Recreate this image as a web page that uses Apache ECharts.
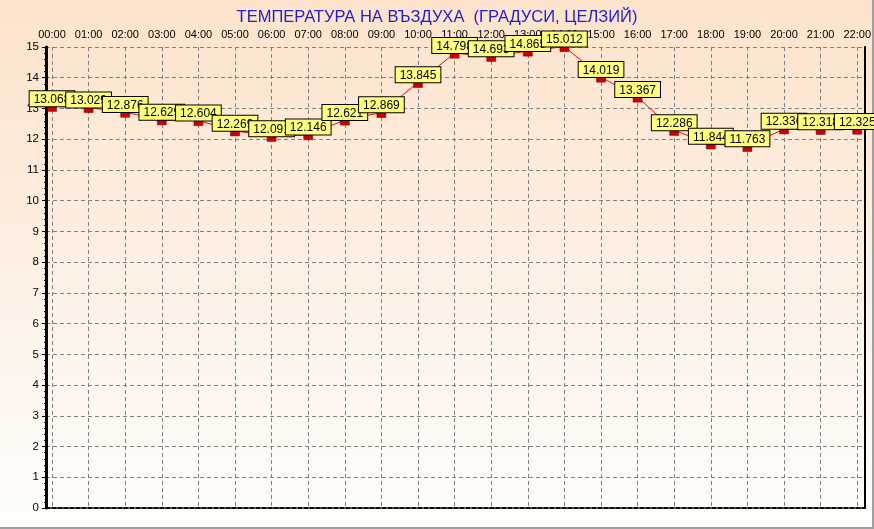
<!DOCTYPE html>
<html>
<head>
<meta charset="utf-8">
<script src="https://cdn.jsdelivr.net/npm/echarts@6/dist/echarts.min.js"></script>
<style>
html,body{margin:0;padding:0;background:#fff;}
#c{width:874px;height:529px;background:linear-gradient(to bottom,#fde3cb 0%,#fdf0e4 50%,#fffefc 100%);}
</style>
</head>
<body>
<div id="c"></div>
<script>
const titleText = 'ТЕМПЕРАТУРА НА ВЪЗДУХА  (ГРАДУСИ, ЦЕЛЗИЙ)';
const hours = ['00:00','01:00','02:00','03:00','04:00','05:00','06:00','07:00','08:00','09:00','10:00','11:00','12:00','13:00','14:00','15:00','16:00','17:00','18:00','19:00','20:00','21:00','22:00'];
const temps = [13.068,13.029,12.876,12.629,12.604,12.269,12.091,12.146,12.621,12.869,13.845,14.798,14.693,14.865,15.012,14.019,13.367,12.286,11.844,11.763,12.336,12.318,12.325];
const yMin = 0, yMax = 15, yStep = 1;

const chart = echarts.init(document.getElementById('c'), null, {renderer:'canvas'});
const font = 'Liberation Sans, Arial, sans-serif';
const dashGray = {color:'#808080', width:1, type:[4,3]};
chart.setOption({
  backgroundColor: 'transparent',
  animation: false,
  title: {
    text: titleText, left: 'center', top: 4,
    textStyle: {color:'#2222cc', fontSize:16.5, fontWeight:'normal', fontFamily: font}
  },
  graphic: [
    {type:'rect', right:0, top:0, shape:{width:2, height:529}, style:{fill:'#a0a0a0'}, z:-1},
    {type:'rect', left:0, bottom:0, shape:{width:874, height:2}, style:{fill:'#a0a0a0'}, z:-1}
  ],
  grid: [
    {left:52, right:14, top:47, bottom:21},
    {left:46, right:9, top:47, bottom:21}
  ],
  xAxis: [
    {type:'category', gridIndex:0, position:'top', boundaryGap:false, data:hours,
     axisLine:{show:false}, axisTick:{show:false},
     axisLabel:{color:'#000', fontSize:11, fontFamily:font, margin:7},
     splitLine:{show:true, lineStyle:dashGray}},
    {type:'value', gridIndex:1, position:'top', min:0, max:1,
     axisLine:{show:true, lineStyle:{color:'#000', width:1.5, type:[4,2]}},
     axisTick:{show:false}, axisLabel:{show:false}, splitLine:{show:false}},
    {type:'value', gridIndex:1, position:'bottom', min:0, max:1,
     axisLine:{show:true, lineStyle:{color:'#000', width:1.5, type:[4,2]}},
     axisTick:{show:false}, axisLabel:{show:false}, splitLine:{show:false}}
  ],
  yAxis: [
    {type:'value', gridIndex:0, min:yMin, max:yMax, interval:yStep, show:false, splitLine:{show:false}},
    {type:'value', gridIndex:1, position:'left', min:yMin, max:yMax, interval:yStep,
     axisLine:{show:true, onZero:false, lineStyle:{color:'#000', width:3}},
     axisTick:{show:true, length:4, lineStyle:{color:'#000'}},
     minorTick:{show:true, splitNumber:5, length:2, lineStyle:{color:'#000'}},
     axisLabel:{color:'#000', fontSize:11.5, fontFamily:font, margin:7},
     splitLine:{show:true, lineStyle:dashGray}},
    {type:'value', gridIndex:1, position:'right', min:yMin, max:yMax, interval:yStep,
     axisLine:{show:true, onZero:false, lineStyle:{color:'#000', width:2}},
     axisTick:{show:false}, axisLabel:{show:false}, splitLine:{show:false}}
  ],
  series: [{
    type:'line', xAxisIndex:0, yAxisIndex:0, data:temps, clip:false,
    lineStyle:{color:'#dd1111', width:1},
    symbol:'rect', symbolSize:[9,5], symbolOffset:[0,2.5], showAllSymbol:true,
    itemStyle:{color:'#cc0000', borderColor:'#700000', borderWidth:0.5},
    z:5,
    label:{show:true, position:'top', distance:0, color:'#000', fontSize:12, fontFamily:font,
      backgroundColor:'#ffff80', borderColor:'#000', borderWidth:1, padding:[2,4,0,4], lineHeight:13,
      formatter: p => p.value.toFixed(3)}
  }]
});
</script>
</body>
</html>
